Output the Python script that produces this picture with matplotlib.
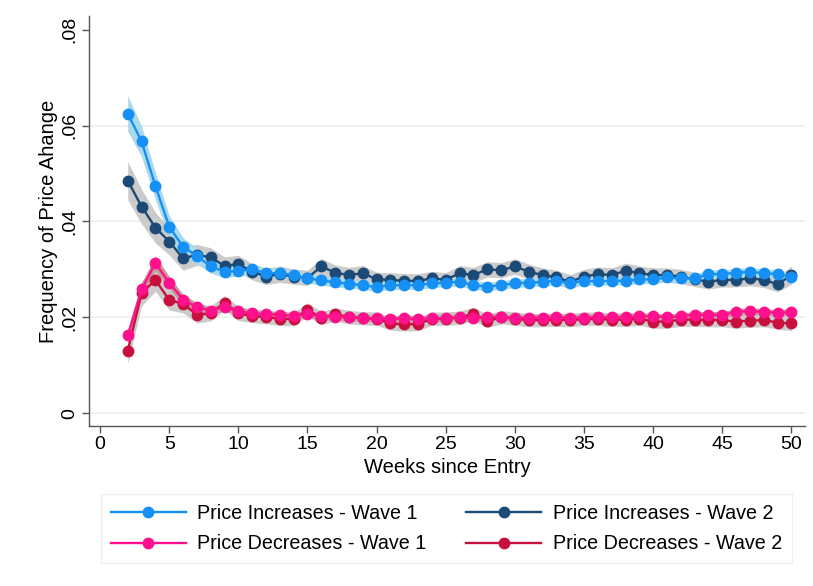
import numpy as np
import matplotlib
matplotlib.use("Agg")
import matplotlib.pyplot as plt
from matplotlib.lines import Line2D

plt.rcParams['font.family'] = ['Liberation Sans', 'DejaVu Sans']

weeks = list(range(2, 51))

# frequency of price changes by week since entry
inc_w1 = [0.0625, 0.0567, 0.0474, 0.0389, 0.0347, 0.0328, 0.0306, 0.0295, 0.0297, 0.0300,
          0.0292, 0.0292, 0.0288, 0.0281, 0.0277, 0.0273, 0.0270, 0.0267, 0.0263, 0.0267,
          0.0267, 0.0267, 0.0271, 0.0272, 0.0274, 0.0267, 0.0264, 0.0267, 0.0271, 0.0272,
          0.0274, 0.0276, 0.0271, 0.0276, 0.0275, 0.0276, 0.0276, 0.0279, 0.0279, 0.0283,
          0.0281, 0.0281, 0.0290, 0.0290, 0.0293, 0.0295, 0.0292, 0.0290, 0.0284]
inc_w2 = [0.0485, 0.0431, 0.0387, 0.0358, 0.0323, 0.0330, 0.0325, 0.0307, 0.0311, 0.0295,
          0.0285, 0.0290, 0.0285, 0.0282, 0.0306, 0.0293, 0.0288, 0.0292, 0.0279, 0.0278,
          0.0276, 0.0276, 0.0281, 0.0278, 0.0292, 0.0288, 0.0300, 0.0298, 0.0306, 0.0295,
          0.0288, 0.0283, 0.0274, 0.0285, 0.0290, 0.0288, 0.0297, 0.0292, 0.0288, 0.0288,
          0.0285, 0.0279, 0.0274, 0.0278, 0.0278, 0.0281, 0.0278, 0.0269, 0.0288]
dec_w1 = [0.0162, 0.0258, 0.0313, 0.0272, 0.0237, 0.0221, 0.0214, 0.0221, 0.0213, 0.0208,
          0.0207, 0.0205, 0.0203, 0.0206, 0.0202, 0.0201, 0.0200, 0.0198, 0.0198, 0.0196,
          0.0198, 0.0196, 0.0198, 0.0198, 0.0200, 0.0198, 0.0200, 0.0201, 0.0198, 0.0199,
          0.0199, 0.0200, 0.0199, 0.0199, 0.0200, 0.0200, 0.0200, 0.0202, 0.0202, 0.0200,
          0.0202, 0.0205, 0.0205, 0.0205, 0.0211, 0.0213, 0.0211, 0.0209, 0.0211]
dec_w2 = [0.0130, 0.0250, 0.0278, 0.0236, 0.0228, 0.0205, 0.0208, 0.0230, 0.0208, 0.0203,
          0.0200, 0.0197, 0.0196, 0.0216, 0.0198, 0.0206, 0.0200, 0.0198, 0.0197, 0.0187,
          0.0185, 0.0186, 0.0197, 0.0197, 0.0199, 0.0207, 0.0192, 0.0200, 0.0197, 0.0194,
          0.0194, 0.0195, 0.0194, 0.0197, 0.0197, 0.0195, 0.0195, 0.0197, 0.0191, 0.0191,
          0.0195, 0.0195, 0.0194, 0.0194, 0.0191, 0.0193, 0.0194, 0.0189, 0.0187]

# half-widths of the confidence bands
ci_inc_w1 = [0.0037, 0.0032, 0.0028, 0.0023, 0.0019, 0.0016, 0.0014, 0.0012, 0.0011, 0.0011,
             0.0011, 0.0010, 0.0010, 0.0010, 0.0010, 0.0010, 0.0009, 0.0009, 0.0009, 0.0009,
             0.0009, 0.0009, 0.0009, 0.0009, 0.0009, 0.0009, 0.0009, 0.0009, 0.0009, 0.0009,
             0.0009, 0.0009, 0.0009, 0.0009, 0.0009, 0.0009, 0.0009, 0.0009, 0.0009, 0.0009,
             0.0009, 0.0009, 0.0009, 0.0009, 0.0009, 0.0009, 0.0009, 0.0009, 0.0009]
ci_inc_w2 = [0.0040, 0.0036, 0.0032, 0.0028, 0.0025, 0.0022, 0.0020, 0.0019, 0.0018, 0.0017,
             0.0017, 0.0017, 0.0016, 0.0016, 0.0017, 0.0016, 0.0016, 0.0016, 0.0015, 0.0015,
             0.0015, 0.0015, 0.0015, 0.0015, 0.0016, 0.0016, 0.0016, 0.0016, 0.0016, 0.0016,
             0.0015, 0.0015, 0.0015, 0.0015, 0.0015, 0.0015, 0.0016, 0.0015, 0.0015, 0.0015,
             0.0015, 0.0015, 0.0015, 0.0015, 0.0015, 0.0015, 0.0016, 0.0016, 0.0019]
ci_dec_w1 = [0.0012, 0.0014, 0.0015, 0.0013, 0.0011, 0.0009, 0.0008, 0.0008, 0.0008, 0.0007,
             0.0007, 0.0007, 0.0007, 0.0007, 0.0007, 0.0007, 0.0007, 0.0007, 0.0007, 0.0007,
             0.0007, 0.0007, 0.0007, 0.0007, 0.0007, 0.0007, 0.0007, 0.0007, 0.0007, 0.0007,
             0.0007, 0.0007, 0.0007, 0.0007, 0.0007, 0.0007, 0.0007, 0.0007, 0.0007, 0.0007,
             0.0007, 0.0007, 0.0007, 0.0007, 0.0007, 0.0007, 0.0007, 0.0007, 0.0007]
ci_dec_w2 = [0.0027, 0.0026, 0.0024, 0.0021, 0.0019, 0.0017, 0.0016, 0.0015, 0.0015, 0.0014,
             0.0014, 0.0014, 0.0014, 0.0014, 0.0014, 0.0014, 0.0014, 0.0014, 0.0014, 0.0014,
             0.0014, 0.0014, 0.0014, 0.0014, 0.0014, 0.0014, 0.0014, 0.0014, 0.0014, 0.0014,
             0.0014, 0.0014, 0.0014, 0.0014, 0.0014, 0.0014, 0.0014, 0.0014, 0.0014, 0.0014,
             0.0014, 0.0014, 0.0014, 0.0014, 0.0014, 0.0014, 0.0014, 0.0014, 0.0015]

labels = ["Price Increases - Wave 1", "Price Increases - Wave 2",
          "Price Decreases - Wave 1", "Price Decreases - Wave 2"]
colors = ["#1690f4", "#1c4a76", "#ff108c", "#c8103e"]
band_colors = ["#a9d9ea", "#cbcbcb", "#c49a9a", "#cbcbcb"]

x = np.array(weeks)
series = [np.array(inc_w1), np.array(inc_w2), np.array(dec_w1), np.array(dec_w2)]
cis = [np.array(ci_inc_w1), np.array(ci_inc_w2), np.array(ci_dec_w1), np.array(ci_dec_w2)]

fig = plt.figure(figsize=(8.13, 5.86), dpi=100)
ax = fig.add_axes([0.1095, 0.273, 0.881, 0.700])

for yv in [0, 0.02, 0.04, 0.06]:
    ax.axhline(yv, color="#e8eff2", linewidth=1.2, zorder=0)

# bands: wave 2 grey underneath, wave 1 on top
for i in [1, 0, 3, 2]:
    ax.fill_between(x, series[i] - cis[i], series[i] + cis[i],
                    color=band_colors[i], linewidth=0, zorder=1)

# lines: wave 2 first so wave 1 sits on top
for i in [3, 1, 2, 0]:
    ax.plot(x, series[i], color=colors[i], linewidth=1.7, marker="o",
            markersize=7.5, zorder=3)

ax.set_xlim(-0.8, 51.0)
ax.set_ylim(-0.0027, 0.0829)
ax.set_xticks(range(0, 51, 5))
ax.set_yticks([0, 0.02, 0.04, 0.06, 0.08])
ax.set_yticklabels(["0", ".02", ".04", ".06", ".08"], rotation=90, va="center")
ax.tick_params(axis="both", labelsize=14, length=5, width=1, color="#555555")
ax.tick_params(axis="x", pad=2)
ax.tick_params(axis="y", pad=3)
for s in ["top", "right"]:
    ax.spines[s].set_visible(False)
for s in ["left", "bottom"]:
    ax.spines[s].set_color("#555555")
    ax.spines[s].set_linewidth(1)

ax.set_xlabel("Weeks since Entry", fontsize=14.5, labelpad=4)
ax.set_ylabel("Frequency of Price Ahange", fontsize=14.5, labelpad=2)

# legend fills column-wise, so order the handles to get increases on the first row
order = [0, 2, 1, 3]
handles = [Line2D([], [], color=colors[i], linewidth=1.7, marker="o", markersize=7.5)
           for i in order]
leg = fig.legend(handles, [labels[i] for i in order], loc="center",
                 bbox_to_anchor=(0.549, 0.098), ncol=2, fontsize=14.2,
                 frameon=True, fancybox=False, handlelength=3.8,
                 columnspacing=2.0, handletextpad=0.6, labelspacing=0.6,
                 borderpad=0.5)
leg.get_frame().set_edgecolor("#e6ecee")
leg.get_frame().set_linewidth(1)

fig.savefig("out.png", dpi=100)
